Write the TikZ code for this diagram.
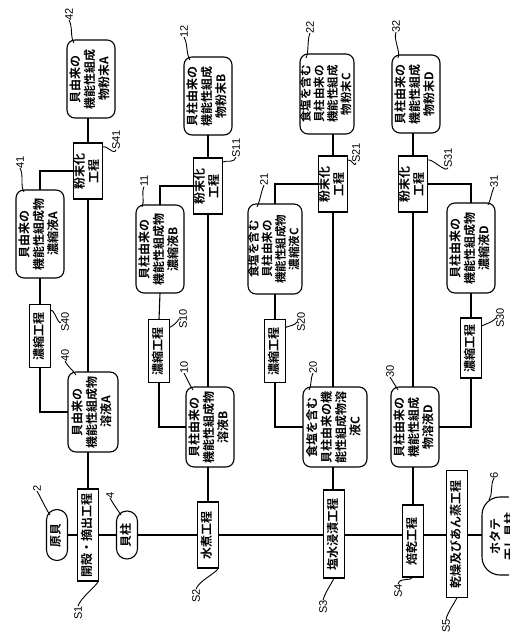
\documentclass[tikz,border=0pt]{standalone}
\usepackage{fontspec}
\setmainfont{Noto Sans CJK JP}[BoldFont={Noto Sans CJK JP Bold}]
\newfontfamily\labfont{Liberation Sans}
\newcommand{\vt}[1]{\rotatebox{90}{\begin{tabular}{@{}c@{}}#1\end{tabular}}}
\newcommand{\rl}[1]{\rotatebox{90}{#1}}
\begin{document}
\begin{tikzpicture}[x=1pt,y=-1pt,
  every node/.style={inner sep=0pt, outer sep=0pt},
  txt/.style={font=\bfseries\fontsize{12}{14}\selectfont},
  txtf/.style={font=\bfseries\fontsize{11.5}{12.2}\selectfont},
  rbox/.style={draw, line width=1.1pt, rounded corners=8pt, txt},
  pbox/.style={draw, line width=1.1pt, txt},
  capbox/.style={draw, line width=1.1pt, txt},
  lbl/.style={font=\labfont\fontsize{11}{11}\selectfont},
  conn/.style={line width=1.1pt},
  lead/.style={line width=0.9pt},
]
\useasboundingbox (0,0) rectangle (509,637);
\clip (0,0) rectangle (509,637);
\fill[white] (0,0) rectangle (509,637);

\coordinate (cA) at (88,0);
\coordinate (cB) at (208,0);
\coordinate (cC) at (333,0);
\coordinate (cD) at (413,0);

% ---------- main row ----------
\node[capbox, rounded corners=10.4pt, minimum width=21pt, minimum height=51pt] (n2) at (57,535) {\vt{原貝}};
\node[pbox, minimum width=21pt, minimum height=92pt] (s1) at (88,535) {\vt{開殻・摘出工程}};
\node[capbox, rounded corners=10.4pt, minimum width=21pt, minimum height=48pt] (n4) at (127,535) {\vt{貝柱}};
\node[pbox, minimum width=21pt, minimum height=66pt] (s2) at (208,535) {\vt{水煮工程}};
\node[pbox, minimum width=21pt, minimum height=88pt] (s3) at (334,534) {\vt{塩水浸漬工程}};
\node[pbox, minimum width=21pt, minimum height=72pt] (s4) at (413,541) {\vt{焙乾工程}};
\node[pbox, minimum width=21pt, minimum height=127pt] (s5) at (457,534) {\vt{乾燥及びあん蒸工程}};
\node[capbox, rounded corners=18pt, minimum width=44pt, minimum height=78pt] (n6) at (504,536) {\vt{ホタテ\\干し貝柱}};

\draw[conn] (n2.east) -- (s1.west);
\draw[conn] (s1.east) -- (n4.west);
\draw[conn] (n4.east) -- (s2.west);
\draw[conn] (s2.east) -- (s3.west |- s2.east);
\draw[conn] (s3.east |- s2.east) -- (s4.west |- s2.east);
\draw[conn] (s4.east |- s2.east) -- (s5.west |- s2.east);
\draw[conn] (s5.east |- s2.east) -- (n6.west |- s2.east);

% ---------- column A ----------
\node[rbox, minimum width=48pt, minimum height=78pt] (n42) at (91,79) {\vt{貝由来の\\機能性組成\\物粉末A}};
\node[pbox, minimum width=28pt, minimum height=56pt] (s41) at (88,171) {\vt{粉末化\\工程}};
\node[rbox, minimum width=48pt, minimum height=88pt] (n41) at (40,234) {\vt{貝由来の\\機能性組成物\\濃縮液A}};
\node[pbox, minimum width=21pt, minimum height=63pt] (s40) at (40,336) {\vt{濃縮工程}};
\node[rbox, minimum width=50pt, minimum height=80pt] (n40) at (93,412) {\vt{貝由来の\\機能性組成物\\溶液A}};

\draw[conn] (n40.south -| cA) -- (s1.north -| cA);
\draw[conn] (n40.north -| cA) -- (s41.south -| cA);
\draw[conn] (s41.north -| cA) -- (n42.south -| cA);
\draw[conn] (n40.west) -| (s40.south);
\draw[conn] (s40.north) -- (n41.south);
\draw[conn] (n41.north) |- (s41.west);

% ---------- column B ----------
\node[rbox, minimum width=48pt, minimum height=78pt] (n12) at (208,96) {\vt{貝柱由来の\\機能性組成\\物粉末B}};
\node[pbox, minimum width=28pt, minimum height=56pt] (s11) at (208,186) {\vt{粉末化\\工程}};
\node[rbox, minimum width=48pt, minimum height=88pt] (n11) at (160,249) {\vt{貝柱由来の\\機能性組成物\\濃縮液B}};
\node[pbox, minimum width=21pt, minimum height=63pt] (s10) at (159,351) {\vt{濃縮工程}};
\node[rbox, minimum width=48pt, minimum height=80pt] (n10) at (210,427) {\vt{貝柱由来の\\機能性組成物\\溶液B}};

\draw[conn] (n10.south -| cB) -- (s2.north -| cB);
\draw[conn] (n10.north -| cB) -- (s11.south -| cB);
\draw[conn] (s11.north -| cB) -- (n12.south -| cB);
\draw[conn] (n10.west) -| (s10.south);
\draw[conn] (s10.north) -- (n11.south);
\draw[conn] (n11.north) |- (s11.west);

% ---------- column C ----------
\node[rbox, txtf, minimum width=50pt, minimum height=80pt] (n22) at (327,94) {\vt{食塩を含む\\貝柱由来の\\機能性組成\\物粉末C}};
\node[pbox, minimum width=28pt, minimum height=56pt] (s21) at (333,184) {\vt{粉末化\\工程}};
\node[rbox, txtf, minimum width=50pt, minimum height=90pt] (n21) at (275,249) {\vt{食塩を含む\\貝柱由来の\\機能性組成物\\濃縮液C}};
\node[pbox, minimum width=21pt, minimum height=63pt] (s20) at (275,351) {\vt{濃縮工程}};
\node[rbox, minimum width=64pt, minimum height=80pt] (n20) at (335,427) {\vt{食塩を含む\\貝柱由来の機\\能性組成物溶\\液C}};

\draw[conn] (n20.south -| cC) -- (s3.north -| cC);
\draw[conn] (n20.north -| cC) -- (s21.south -| cC);
\draw[conn] (s21.north -| cC) -- (n22.south -| cC);
\draw[conn] (n20.west) -| (s20.south);
\draw[conn] (s20.north) -- (n21.south);
\draw[conn] (n21.north) |- (s21.west);

% ---------- column D ----------
\node[rbox, minimum width=48pt, minimum height=78pt] (n32) at (416,94) {\vt{貝柱由来の\\機能性組成\\物粉末D}};
\node[pbox, minimum width=28pt, minimum height=56pt] (s31) at (413,184) {\vt{粉末化\\工程}};
\node[rbox, minimum width=48pt, minimum height=90pt] (n31) at (471,248) {\vt{貝柱由来の\\機能性組成物\\濃縮液D}};
\node[pbox, minimum width=21pt, minimum height=60pt] (s30) at (471,348) {\vt{濃縮工程}};
\node[rbox, minimum width=48pt, minimum height=80pt] (n30) at (415,427) {\vt{貝柱由来の\\機能性組成\\物溶液D}};

\draw[conn] (n30.south -| cD) -- (s4.north -| cD);
\draw[conn] (n30.north -| cD) -- (s31.south -| cD);
\draw[conn] (s31.north -| cD) -- (n32.south -| cD);
\draw[conn] (n30.east) -| (s30.south);
\draw[conn] (s30.north) -- (n31.south);
\draw[conn] (n31.north) |- (s31.east);

% ---------- reference numerals ----------
\node[lbl] (t2) at (37,488) {\rl{2}};
\node[lbl] (t4) at (110,495) {\rl{4}};
\node[lbl] (t6) at (494,475) {\rl{6}};
\node[lbl] (t40) at (65,355) {\rl{40}};
\node[lbl] (t10) at (184,367) {\rl{10}};
\node[lbl] (t20) at (313,367) {\rl{20}};
\node[lbl] (t30) at (390,371) {\rl{30}};
\node[lbl] (t41) at (20,162) {\rl{41}};
\node[lbl] (t11) at (144,181) {\rl{11}};
\node[lbl] (t21) at (264,179) {\rl{21}};
\node[lbl] (t31) at (494,181) {\rl{31}};
\node[lbl] (t42) at (69,14) {\rl{42}};
\node[lbl] (t12) at (184,31) {\rl{12}};
\node[lbl] (t22) at (310,27) {\rl{22}};
\node[lbl] (t32) at (396,26) {\rl{32}};

\draw[lead] (t2.south) .. controls +(4,7) and +(-4,-6) .. (50,515);
\draw[lead] (t4.south) .. controls +(4,7) and +(-4,-6) .. (121,515);
\draw[lead] (t6.south) .. controls +(-4,7) and +(4,-6) .. (489,500);
\draw[lead] (t40.south) .. controls +(4,7) and +(-4,-6) .. (76,375);
\draw[lead] (t10.south) .. controls +(4,7) and +(-4,-6) .. (193,390);
\draw[lead] (t20.south) .. controls +(-3,7) and +(3,-6) .. (309,390);
\draw[lead] (t30.south) .. controls +(4,7) and +(-4,-6) .. (398,390);
\draw[lead] (t41.south) .. controls +(4,7) and +(-4,-6) .. (24,192);
\draw[lead] (t11.south) .. controls +(-3,7) and +(3,-6) .. (142,207);
\draw[lead] (t21.south) .. controls +(-3,7) and +(3,-6) .. (257,207);
\draw[lead] (t31.south) .. controls +(-3,7) and +(3,-6) .. (488,205);
\draw[lead] (t42.south) .. controls +(4,7) and +(-4,-6) .. (74,43);
\draw[lead] (t12.south) .. controls +(4,7) and +(-4,-6) .. (190,60);
\draw[lead] (t22.south) .. controls +(-3,7) and +(3,-6) .. (306,58);
\draw[lead] (t32.south) .. controls +(-3,7) and +(3,-6) .. (398,58);

% ---------- step labels ----------
\node[lbl] (l1) at (78,613) {\rl{S1}};
\node[lbl] (l2) at (196,596) {\rl{S2}};
\node[lbl] (l3) at (323,607) {\rl{S3}};
\node[lbl] (l4) at (398,591) {\rl{S4}};
\node[lbl] (l5) at (446,626) {\rl{S5}};
\node[lbl] (l40) at (65,322) {\rl{S40}};
\node[lbl] (l10) at (183,319) {\rl{S10}};
\node[lbl] (l20) at (301,322) {\rl{S20}};
\node[lbl] (l30) at (500,318) {\rl{S30}};
\node[lbl] (l41) at (116,140) {\rl{S41}};
\node[lbl] (l11) at (236,148) {\rl{S11}};
\node[lbl] (l21) at (356,153) {\rl{S21}};
\node[lbl] (l31) at (448,158) {\rl{S31}};

\draw[lead] (l1.north) .. controls +(2,-8) and +(-2,5) .. (s1.south east);
\draw[lead] (l2.north) .. controls +(2,-8) and +(-2,5) .. (s2.south east);
\draw[lead] (l3.north) .. controls +(2,-8) and +(-2,5) .. (s3.south);
\draw[lead] (l4.north) .. controls +(2,-8) and +(-2,5) .. (s4.south);
\draw[lead] (l5.north) .. controls +(2,-8) and +(-2,5) .. (s5.south);
\draw[lead] (l40.west) .. controls +(-3,4) and +(4,-2) .. ([yshift=-6pt]s40.north east);
\draw[lead] (l10.west) .. controls +(-3,4) and +(4,-2) .. ([yshift=-8pt]s10.north east);
\draw[lead] (l20.west) .. controls +(-3,4) and +(4,-2) .. ([yshift=-8pt]s20.north east);
\draw[lead] (l30.west) .. controls +(-3,4) and +(4,-2) .. ([yshift=-8pt]s30.north east);
\draw[lead] (l41.south) .. controls +(-2,6) and +(5,-2) .. ([yshift=-4pt]s41.north east);
\draw[lead] (l11.south) .. controls +(-2,6) and +(5,-2) .. ([yshift=-4pt]s11.north east);
\draw[lead] (l21.south) .. controls +(-2,6) and +(5,-2) .. ([yshift=-4pt]s21.north east);
\draw[lead] (l31.south) .. controls +(-2,6) and +(5,-2) .. ([yshift=-4pt]s31.north east);
\end{tikzpicture}
\end{document}
